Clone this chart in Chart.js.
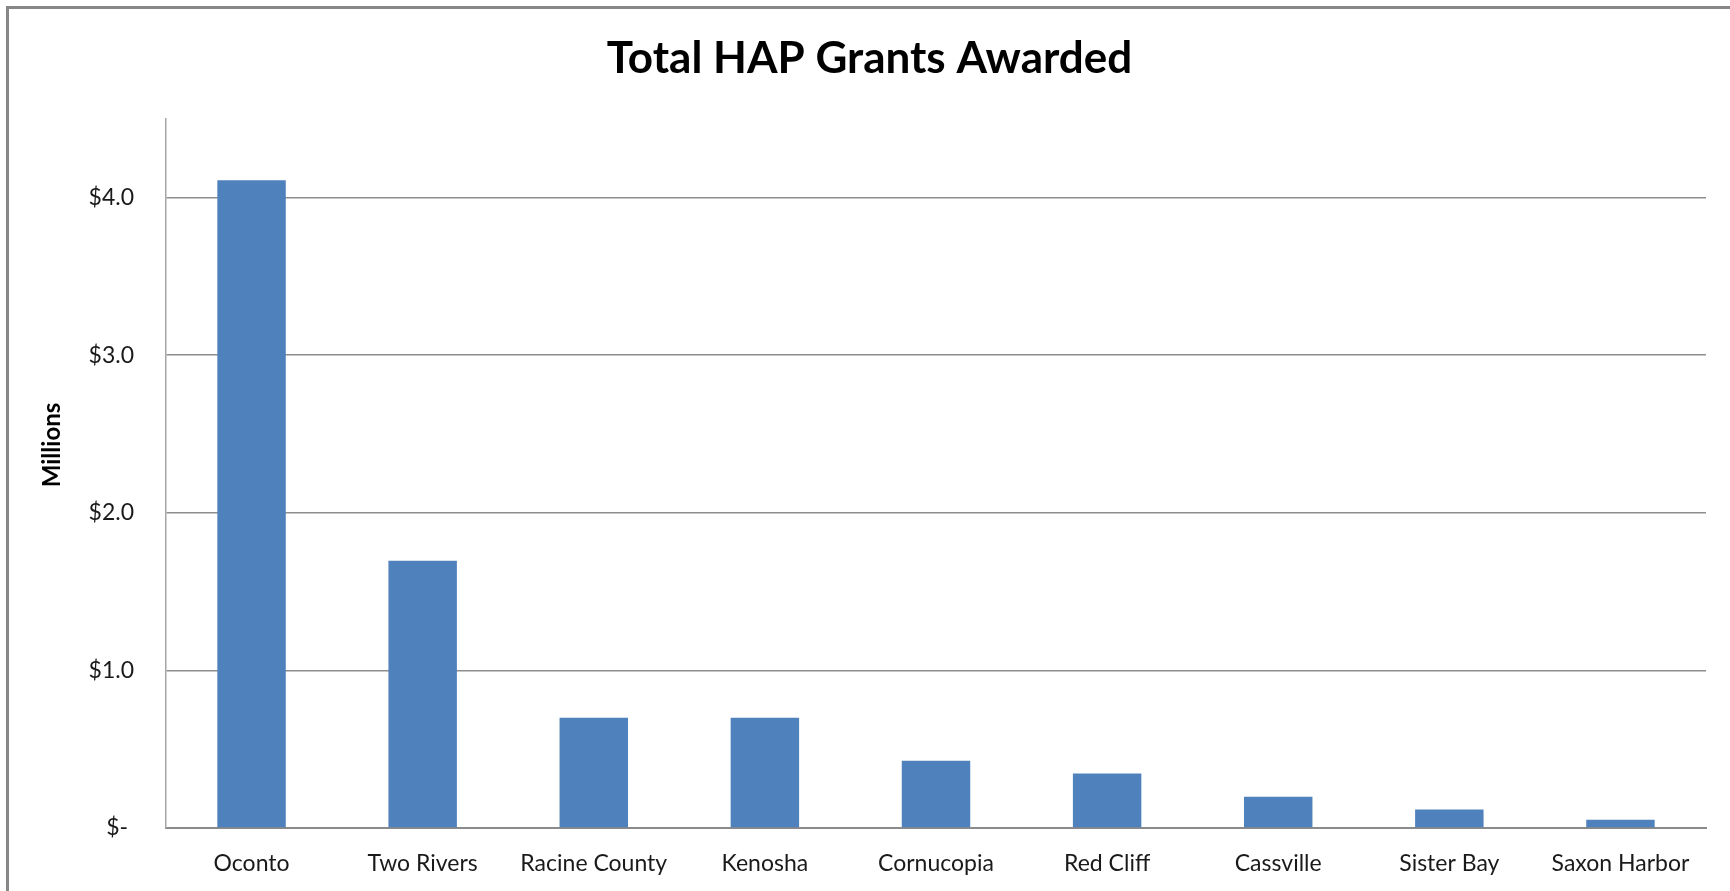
<!DOCTYPE html>
<html>
<head>
<meta charset="utf-8">
<script src="https://cdn.jsdelivr.net/npm/chart.js@4/dist/chart.umd.min.js"></script>
<style>
  html, body { margin: 0; padding: 0; background: #fff; }
  #wrap { width: 1730px; height: 891px; position: relative; }
</style>
</head>
<body>
<div id="wrap"><canvas id="c" width="1730" height="891"></canvas></div>
<script>
const categories = ['Oconto', 'Two Rivers', 'Racine County', 'Kenosha', 'Cornucopia', 'Red Cliff', 'Cassville', 'Sister Bay', 'Saxon Harbor'];
const grantsMillions = [4.11, 1.695, 0.70, 0.70, 0.427, 0.346, 0.198, 0.117, 0.053];
const yTickValues = [0, 1, 2, 3, 4];
const yTickLabels = ['$- ', '$1.0', '$2.0', '$3.0', '$4.0'];
const chartTitle = 'Total HAP Grants Awarded';
const yAxisTitle = 'Millions';

const frame = {
  id: 'frame',
  beforeDraw(chart) {
    const ctx = chart.ctx;
    ctx.save();
    ctx.fillStyle = '#ffffff';
    ctx.fillRect(0, 0, chart.width, chart.height);
    ctx.strokeStyle = '#878787';
    ctx.lineWidth = 3;
    ctx.strokeRect(7.5, 7.5, chart.width + 20, chart.height + 20);
    ctx.restore();
  },
  afterDraw(chart) {
    const ctx = chart.ctx;
    ctx.save();
    ctx.translate(52, 445);
    ctx.rotate(-Math.PI / 2);
    ctx.font = 'bold 24px Lato';
    ctx.fillStyle = '#000';
    ctx.textAlign = 'center';
    ctx.textBaseline = 'middle';
    ctx.fillText(yAxisTitle, 0, 0);
    ctx.restore();
  }
};

new Chart(document.getElementById('c'), {
  type: 'bar',
  data: {
    labels: categories,
    datasets: [{
      data: grantsMillions,
      backgroundColor: '#4F81BD',
      borderWidth: 0,
      barPercentage: 0.4,
      categoryPercentage: 1.0
    }]
  },
  plugins: [frame],
  options: {
    responsive: false,
    animation: false,
    devicePixelRatio: 1,
    layout: { padding: { left: 33, right: 24, top: 0, bottom: 0 } },
    plugins: {
      legend: { display: false },
      tooltip: { enabled: false },
      title: {
        display: true,
        text: chartTitle,
        color: '#000',
        font: { family: 'Lato', size: 44, weight: 'bold', lineHeight: 1.2 },
        padding: { top: 32, bottom: 34 }
      }
    },
    scales: {
      x: {
        grid: { display: false, drawTicks: false },
        border: { display: true, color: '#8a8a8a', width: 2 },
        ticks: {
          color: '#1a1a1a',
          font: { family: 'Lato', size: 23 },
          padding: 22,
          maxRotation: 0,
          autoSkip: false
        },
        afterFit(scale) { scale.height = 63; }
      },
      y: {
        min: 0,
        max: 4.5,
        ticks: {
          stepSize: 1,
          color: '#1a1a1a',
          font: { family: 'Lato', size: 23 },
          padding: 32,
          callback(value) {
            const i = yTickValues.indexOf(value);
            return i >= 0 ? yTickLabels[i] : '';
          }
        },
        afterBuildTicks(scale) {
          scale.ticks = scale.ticks.filter(t => yTickValues.includes(t.value));
        },
        grid: { color: '#8e8e8e', lineWidth: 1.5, drawTicks: false },
        border: { display: true, color: '#a6a6a6', width: 1.5 },
        afterFit(scale) { scale.width = 133; }
      }
    }
  }
});
</script>
</body>
</html>
